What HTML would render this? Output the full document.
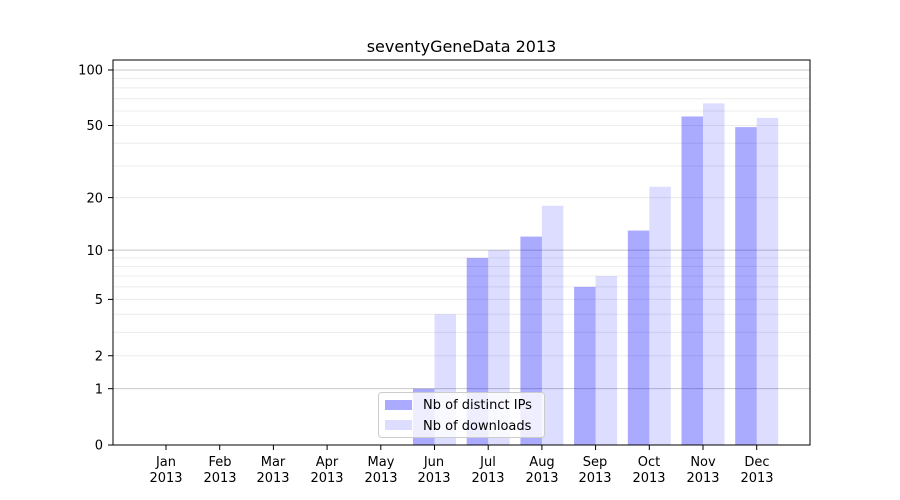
<!DOCTYPE html>
<html><head><meta charset="utf-8"><style>
body{margin:0;background:#fff}
svg{display:block;font-family:"DejaVu Sans","Liberation Sans",sans-serif}
</style></head><body>
<svg id="s" width="900" height="500" viewBox="0 0 900 500">
<rect width="900" height="500" fill="#fff"/>
<g id="grid"></g>
<g id="bars"></g>
<rect x="113" y="60" width="697" height="385" fill="none" stroke="#000" stroke-width="1"/>
<text x="461.5" y="52" text-anchor="middle" font-size="16">seventyGeneData 2013</text>
<g font-size="13" text-anchor="end">
<text x="103" y="449.5">0</text>
<text x="103" y="393.5">1</text>
<text x="103" y="360.5">2</text>
<text x="103" y="304">5</text>
<text x="103" y="255">10</text>
<text x="103" y="202.5">20</text>
<text x="103" y="130">50</text>
<text x="103" y="74.5">100</text>
</g>
<g id="yt" stroke="#000"></g>
<g id="xt" stroke="#000"></g>
<g font-size="13" text-anchor="middle">
<text x="166" y="466">Jan</text><text x="166" y="482">2013</text>
<text x="220" y="466">Feb</text><text x="220" y="482">2013</text>
<text x="273" y="466">Mar</text><text x="273" y="482">2013</text>
<text x="327" y="466">Apr</text><text x="327" y="482">2013</text>
<text x="381" y="466">May</text><text x="381" y="482">2013</text>
<text x="434" y="466">Jun</text><text x="434" y="482">2013</text>
<text x="488" y="466">Jul</text><text x="488" y="482">2013</text>
<text x="542" y="466">Aug</text><text x="542" y="482">2013</text>
<text x="595" y="466">Sep</text><text x="595" y="482">2013</text>
<text x="649" y="466">Oct</text><text x="649" y="482">2013</text>
<text x="703" y="466">Nov</text><text x="703" y="482">2013</text>
<text x="757" y="466">Dec</text><text x="757" y="482">2013</text>
</g>
<rect x="378.5" y="392.5" width="166" height="45" rx="3" fill="#fff" fill-opacity="0.8" stroke="#ccc"/>
<rect x="385" y="400" width="27" height="10" fill="#aaaaff"/>
<rect x="385" y="420" width="27" height="10" fill="#ddddff"/>
<g font-size="13"><text x="423" y="409">Nb of distinct IPs</text><text x="423" y="430">Nb of downloads</text></g>
</svg>
<script>
var NS="http://www.w3.org/2000/svg";
function Y(v){return 445-187.1*Math.log10(1+v);}
function el(p,t,a){var e=document.createElementNS(NS,t);for(var k in a)e.setAttribute(k,a[k]);p.appendChild(e);return e;}
var g=document.getElementById("grid");
[2,3,4,5,6,7,8,9,20,30,40,50,60,70,80,90].forEach(function(v){var y=Y(v);el(g,"line",{x1:113,x2:810,y1:y,y2:y,stroke:"#ececec","stroke-width":1});});
[1,10,100].forEach(function(v){var y=Y(v);el(g,"line",{x1:113,x2:810,y1:y,y2:y,stroke:"#c8c8c8","stroke-width":1});});
var yt=document.getElementById("yt");
[0,1,2,5,10,20,50,100].forEach(function(v){var y=Y(v);el(yt,"line",{x1:108,x2:113,y1:y,y2:y});});
var xt=document.getElementById("xt"),b=document.getElementById("bars");
var ip=[0,0,0,0,0,1,9,12,6,13,56,49],dl=[0,0,0,0,0,4,10,18,7,23,66,55];
for(var i=0;i<12;i++){var c=166+i*53.7;
el(xt,"line",{x1:c,x2:c,y1:445,y2:450});
if(ip[i]>0){var y=Y(ip[i]);el(b,"rect",{x:c-21.5,y:y,width:21.5,height:445-y,fill:"#0000ff","fill-opacity":0.333});}
if(dl[i]>0){var y=Y(dl[i]);el(b,"rect",{x:c,y:y,width:21.5,height:445-y,fill:"#0000ff","fill-opacity":0.133});}
}
</script>
</body></html>
